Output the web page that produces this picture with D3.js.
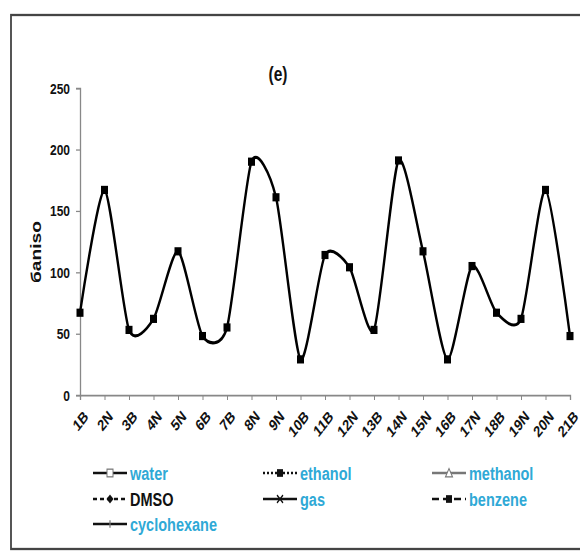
<!DOCTYPE html>
<html>
<head>
<meta charset="utf-8">
<script src="https://cdn.jsdelivr.net/npm/d3@7"></script>
<style>
  body { margin: 0; background: #fff; }
  svg text { font-family: Arial, "Liberation Sans", sans-serif; }
</style>
</head>
<body>
<div id="chart"></div>
<script>
// Reconstructed line chart (e): anisotropy per structure

const categories = ['1B', '2N', '3B', '4N', '5N', '6B', '7B', '8N', '9N', '10B', '11B',
    '12N', '13B', '14N', '15N', '16B', '17N', '18B', '19N', '20N', '21B'];
const anisoValues = [67, 167, 53, 62, 117, 48, 55, 190, 161, 29, 114,
    104, 53, 191, 117, 29, 105, 67, 62, 167, 48];
const yTicks = [0, 50, 100, 150, 200, 250];
const seriesNames = ['water', 'ethanol', 'methanol', 'DMSO', 'gas', 'benzene', 'cyclohexane'];
const titleText = '(e)';
const yLabel = 'бaniso';

const width = 580, height = 552;
const stretch = 1.28; // the picture is taller than it is wide, so everything is stretched

// legend glyph styles, in the same order as seriesNames
const legendStyle = [
    { dash: null, marker: 'hollowSquare', color: '#2fa9d6' },
    { dash: '2,2', marker: 'square', color: '#2fa9d6' },
    { dash: null, marker: 'triangle', color: '#2fa9d6', line: '#777' },
    { dash: '4,3', marker: 'diamond', color: '#111' },
    { dash: null, marker: 'cross', color: '#2fa9d6' },
    { dash: '7,4', marker: 'square', color: '#2fa9d6' },
    { dash: null, marker: 'tick', color: '#2fa9d6' }
];

const svg = d3.select('#chart').append('svg')
    .attr('width', width)
    .attr('height', height);

const root = svg.append('g').attr('transform', `scale(1,${stretch})`);

// frame
root.append('rect')
    .attr('x', 11).attr('y', 15 / stretch)
    .attr('width', 620).attr('height', (549 - 15) / stretch)
    .attr('fill', 'none')
    .attr('stroke', '#444')
    .attr('stroke-width', 1.8);

const x = d3.scalePoint()
    .domain(categories)
    .range([80, 570]);

const y = d3.scaleLinear()
    .domain([0, 250])
    .range([395 / stretch, 88 / stretch]);

// title
root.append('text')
    .attr('x', 278).attr('y', 81 / stretch)
    .attr('text-anchor', 'middle')
    .attr('font-size', 15.5).attr('font-weight', 'bold')
    .attr('fill', '#111')
    .text(titleText);

// y axis
const yAxis = root.append('g')
    .attr('transform', 'translate(80,0)')
    .call(d3.axisLeft(y).tickValues(yTicks).tickSize(4).tickPadding(6));
yAxis.select('.domain').attr('stroke', '#888').attr('stroke-width', 1.3);
yAxis.selectAll('.tick line').attr('stroke', '#888');
yAxis.selectAll('.tick text')
    .attr('font-size', 12).attr('font-weight', 'bold')
    .attr('fill', '#111');

// x axis
const xAxis = root.append('g')
    .attr('transform', `translate(0,${y(0)})`)
    .call(d3.axisBottom(x).tickSize(4).tickPadding(4));
xAxis.select('.domain').attr('stroke', '#888').attr('stroke-width', 1.3);
xAxis.selectAll('.tick line').attr('stroke', '#888');
xAxis.selectAll('.tick text')
    .attr('font-size', 12.5).attr('font-weight', 'bold')
    .attr('fill', '#111')
    .attr('text-anchor', 'end')
    .attr('dx', '-0.5em')
    .attr('dy', '0.85em')
    .attr('transform', 'rotate(-45)');

// y label
root.append('text')
    .attr('transform', `translate(41,${252 / stretch}) rotate(-90)`)
    .attr('text-anchor', 'middle')
    .attr('font-size', 15).attr('font-weight', 'bold')
    .attr('fill', '#111')
    .text(yLabel);

// line
const points = categories.map((c, i) => ({ cat: c, value: anisoValues[i] }));
const line = d3.line()
    .x(d => x(d.cat))
    .y(d => y(d.value))
    .curve(d3.curveCardinal.tension(0.3));

root.append('path')
    .datum(points)
    .attr('fill', 'none')
    .attr('stroke', '#000')
    .attr('stroke-width', 2.4)
    .attr('d', line);

root.selectAll('.pt')
    .data(points)
    .enter()
    .append('rect')
    .attr('class', 'pt')
    .attr('x', d => x(d.cat) - 3.5)
    .attr('y', d => y(d.value) - 3.2)
    .attr('width', 7).attr('height', 6.4)
    .attr('fill', '#000');

// legend
const legendCols = [93, 263, 432];
const legendRows = [473, 499, 524];
const legend = root.append('g');

seriesNames.forEach((name, i) => {
    const st = legendStyle[i];
    const lx = legendCols[i % 3];
    const ly = legendRows[Math.floor(i / 3)] / stretch;
    const row = legend.append('g').attr('transform', `translate(${lx},${ly})`);

    row.append('line')
        .attr('x1', 0).attr('x2', 34)
        .attr('y1', 0).attr('y2', 0)
        .attr('stroke', st.line || '#111')
        .attr('stroke-width', 2)
        .attr('stroke-dasharray', st.dash);

    const cx = 17;
    if (st.marker === 'hollowSquare') {
        row.append('rect').attr('x', cx - 3).attr('y', -3).attr('width', 6).attr('height', 6)
            .attr('fill', '#fff').attr('stroke', '#777').attr('stroke-width', 1);
    } else if (st.marker === 'square') {
        row.append('rect').attr('x', cx - 3).attr('y', -3).attr('width', 6).attr('height', 6)
            .attr('fill', '#111');
    } else if (st.marker === 'triangle') {
        row.append('path').attr('d', `M${cx},-3.5L${cx + 3.5},3L${cx - 3.5},3Z`)
            .attr('fill', '#fff').attr('stroke', '#777').attr('stroke-width', 1);
    } else if (st.marker === 'diamond') {
        row.append('path').attr('d', `M${cx},-3.5L${cx + 3.5},0L${cx},3.5L${cx - 3.5},0Z`)
            .attr('fill', '#111');
    } else if (st.marker === 'cross') {
        row.append('path').attr('d', `M${cx - 3},-3L${cx + 3},3M${cx + 3},-3L${cx - 3},3`)
            .attr('stroke', '#111').attr('stroke-width', 1.2);
    } else if (st.marker === 'tick') {
        row.append('path').attr('d', `M${cx},-3L${cx},3`)
            .attr('stroke', '#777').attr('stroke-width', 1.2);
    }

    row.append('text')
        .attr('x', 37).attr('y', 0)
        .attr('dy', '0.36em')
        .attr('font-size', 14.5).attr('font-weight', 'bold')
        .attr('fill', st.color)
        .text(name);
});
</script>
</body>
</html>
